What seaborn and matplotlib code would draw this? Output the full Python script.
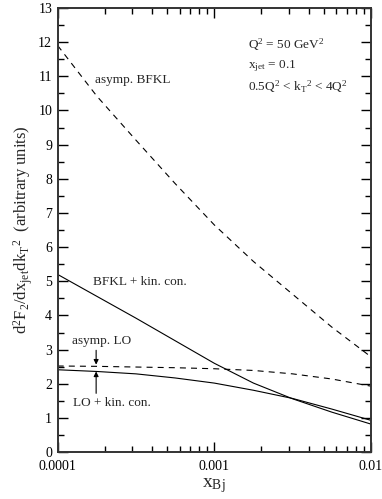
import numpy as np
import pandas as pd
import matplotlib
matplotlib.use('Agg')
import matplotlib.pyplot as plt
import seaborn as sns
from matplotlib.ticker import LogLocator, MultipleLocator, FixedLocator, FixedFormatter, NullFormatter

# ============================
# data
# ============================
x_bj = [1e-4, 1.778e-4, 3.162e-4, 5.623e-4, 1e-3, 1.778e-3, 3.162e-3, 5.623e-3, 1e-2]

asymp_bfkl = [11.90, 10.42, 9.13, 7.86, 6.65, 5.58, 4.62, 3.66, 2.79]
bfkl_kin = [5.20, 4.56, 3.92, 3.26, 2.60, 2.02, 1.56, 1.17, 0.82]
asymp_lo = [2.52, 2.51, 2.49, 2.47, 2.44, 2.39, 2.29, 2.14, 1.93]
lo_kin = [2.41, 2.36, 2.29, 2.17, 2.02, 1.81, 1.57, 1.26, 0.93]

curve_names = ['asymp. BFKL', 'BFKL + kin. con.', 'asymp. LO', 'LO + kin. con.']
x_ticks = [1e-4, 1e-3, 1e-2]
x_tick_labels = ['0.0001', '0.001', '0.01']

df = pd.concat([
    pd.DataFrame({'x': x_bj, 'y': vals, 'curve': name})
    for name, vals in zip(curve_names, [asymp_bfkl, bfkl_kin, asymp_lo, lo_kin])
], ignore_index=True)

# ============================
# style
# ============================
sns.set_style('ticks')
plt.rcParams['font.family'] = ['Liberation Serif', 'DejaVu Serif']
plt.rcParams['mathtext.fontset'] = 'custom'
plt.rcParams['mathtext.rm'] = 'Liberation Serif'
plt.rcParams['mathtext.it'] = 'Liberation Serif:italic'
plt.rcParams['mathtext.bf'] = 'Liberation Serif:bold'

fig = plt.figure(figsize=(3.82, 4.99), dpi=100)
ax = fig.add_axes([0.151, 0.094, 0.820, 0.890])

palette = {n: 'black' for n in curve_names}
dashes = {'asymp. BFKL': (5.4, 4.6), 'BFKL + kin. con.': '',
          'asymp. LO': (5.4, 4.6), 'LO + kin. con.': ''}
sns.lineplot(data=df, x='x', y='y', hue='curve', style='curve',
             palette=palette, dashes=dashes, linewidth=0.8, legend=False, ax=ax)

ax.set_xscale('log')
ax.set_xlim(1e-4, 1e-2)
ax.set_ylim(0, 13)

ax.xaxis.set_major_locator(FixedLocator(x_ticks))
ax.xaxis.set_major_formatter(FixedFormatter(x_tick_labels))
ax.xaxis.set_minor_locator(LogLocator(base=10, subs=np.arange(2, 10)))
ax.xaxis.set_minor_formatter(NullFormatter())
ax.yaxis.set_major_locator(MultipleLocator(1))
ax.yaxis.set_minor_locator(MultipleLocator(0.5))

ax.tick_params(which='both', direction='in', top=True, right=True,
               labelsize=10, colors='black')
ax.tick_params(axis='x', which='major', pad=6)
ax.tick_params(axis='y', which='major', pad=4)
ax.tick_params(which='major', length=7, width=1.0)
ax.tick_params(which='minor', length=4, width=1.0)
for s in ax.spines.values():
    s.set_linewidth(1.4)
    s.set_color('#333333')

ax.set_xlabel(r'$\mathrm{x_{Bj}}$', fontsize=14, labelpad=2)
ax.set_ylabel(r'$\mathrm{d^2F_2/dx_{jet}dk_T{}^2}$  (arbitrary units)', fontsize=12)
ax.yaxis.set_label_coords(-0.072, 0.5)

# annotations
ax.text(1.73e-4, 10.9, 'asymp. BFKL', fontsize=9.5, va='center')
ax.text(1.68e-4, 4.98, 'BFKL + kin. con.', fontsize=9.5, va='center')
ax.text(1.23e-4, 3.25, 'asymp. LO', fontsize=9.5, va='center')
ax.text(1.25e-4, 1.43, 'LO + kin. con.', fontsize=9.5, va='center')
ax.annotate('', xy=(1.76e-4, 2.56), xytext=(1.76e-4, 2.98),
            arrowprops=dict(arrowstyle='-|>', color='black', lw=0.8,
                            mutation_scale=7, shrinkA=0, shrinkB=0))
ax.annotate('', xy=(1.76e-4, 2.36), xytext=(1.76e-4, 1.72),
            arrowprops=dict(arrowstyle='-|>', color='black', lw=0.8,
                            mutation_scale=7, shrinkA=0, shrinkB=0))

ax.text(1.64e-3, 11.93, r'$\mathrm{Q^2}$ = 50 GeV$^2$', fontsize=9.5, va='center')
ax.text(1.64e-3, 11.31, r'$\mathrm{x_{jet}}$ = 0.1', fontsize=9.5, va='center')
ax.text(1.64e-3, 10.69, r'0.5Q$^2$ < k$_\mathrm{T}{}^2$ < 4Q$^2$', fontsize=9.5, va='center')

fig.savefig('out.png', dpi=100)
plt.close(fig)
